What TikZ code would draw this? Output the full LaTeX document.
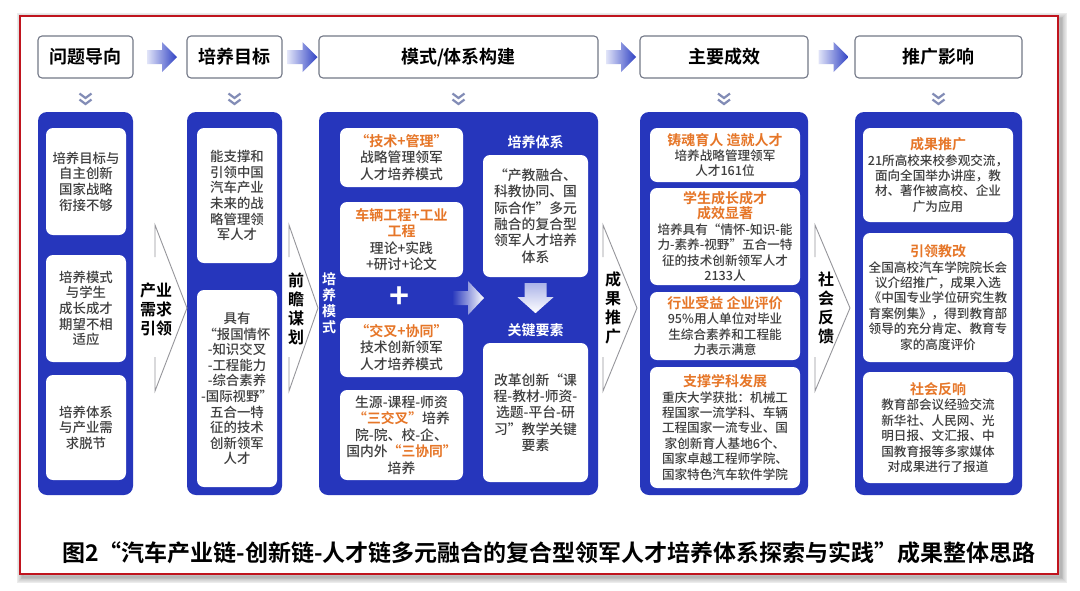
\documentclass[tikz,border=0pt]{standalone}
\usepackage{fontspec}
\setmainfont{Noto Sans CJK SC}[UprightFont={* Medium}, BoldFont={* Bold}]
\usetikzlibrary{calc}

\definecolor{panelblue}{RGB}{38,54,188}
\definecolor{boxgray}{RGB}{115,120,135}
\definecolor{titleorange}{RGB}{230,118,40}
\definecolor{bodytext}{RGB}{62,62,62}
\definecolor{framered}{RGB}{192,20,30}
\definecolor{iconblue}{RGB}{130,140,182}
\definecolor{arrowlight}{RGB}{225,228,248}
\definecolor{arrowblue}{RGB}{48,66,196}
\definecolor{chevgray}{RGB}{150,150,155}

\newcommand{\boxtitle}[1]{{\color{titleorange}\bfseries\fontsize{14}{16}\selectfont #1}}
\newcommand{\orng}[1]{{\color{titleorange}\bfseries #1}}

\tikzset{
  headbox/.style={draw=boxgray, line width=1.1pt, fill=white, rounded corners=4pt,
    minimum height=42pt, font=\fontsize{18}{20}\selectfont\bfseries, text=black},
  panel/.style={fill=panelblue, rounded corners=9pt, minimum height=383pt},
  inbox/.style={fill=white, rounded corners=7pt, align=center, text=bodytext, inner sep=1pt},
  textA/.style={font=\fontsize{13.4}{15.6}\selectfont},
  textB/.style={font=\fontsize{13.8}{16.4}\selectfont},
  textC/.style={font=\fontsize{12.6}{15.4}\selectfont},
  chevline/.style={draw=chevgray, line width=0.9pt},
  chevtext/.style={align=center, text=black, font=\fontsize{16}{19}\selectfont\bfseries},
  whitelabel/.style={align=center, text=white, font=\fontsize{14}{16}\selectfont\bfseries},
  icon/.style={draw=iconblue, line width=2.2pt},
}

\begin{document}
\begin{tikzpicture}[x=1pt, y=-1pt]
  \useasboundingbox (0,0) rectangle (1080,590);
  \fill[white] (0,0) rectangle (1080,590);

  % 外框与阴影
  \foreach \w in {1,...,8}
    \draw[black, opacity=0.04, line width={1.6*\w pt}] (23,19) rectangle (1061,577);
  \draw[framered, line width=1.2pt, fill=white] (20,16) rectangle (1058,574);

  % 顶部标题框
  \node[headbox, minimum width=95pt]  (h1) at (85.5,57)  {问题导向};
  \node[headbox, minimum width=95pt]  (h2) at (234.5,57) {培养目标};
  \node[headbox, minimum width=279pt] (h3) at (458.5,57) {模式/体系构建};
  \node[headbox, minimum width=168pt] (h4) at (724,57)   {主要成效};
  \node[headbox, minimum width=167pt] (h5) at (938.5,57) {推广影响};

  % 标题框之间的渐变箭头
  \foreach \a/\b in {h1/h2, h2/h3, h3/h4, h4/h5} {
    \coordinate (m) at ($(\a.east)!0.5!(\b.west)+(-13,0)$);
    \shade[left color=arrowlight, right color=arrowblue]
      (m) ++(0,-7) -- ++(15,0) -- ++(0,-8) -- ++(15,15) -- ++(-15,15) -- ++(0,-8) -- ++(-15,0) -- cycle;
  }

  % 标题框下方的小图标
  \foreach \h in {h1, h2, h3, h4, h5} {
    \draw[icon] ($(\h.south)+(-6,15)$) -- ++(6,4.5) -- ++(6,-4.5);
    \draw[icon] ($(\h.south)+(-6,21)$) -- ++(6,4.5) -- ++(6,-4.5);
  }

  % 蓝色底板
  \node[panel, minimum width=95pt]  (p1) at (85.5,303.5)  {};
  \node[panel, minimum width=95pt]  (p2) at (234.5,303.5) {};
  \node[panel, minimum width=279pt] (p3) at (458.5,303.5) {};
  \node[panel, minimum width=168pt] (p4) at (724,303.5)   {};
  \node[panel, minimum width=167pt] (p5) at (938.5,303.5) {};

  % 第一列：问题导向
  \node[inbox, textA, minimum width=80pt, minimum height=107pt] (b11) at (86,181.5)
    {培养目标与\\自主创新\\国家战略\\衔接不够};
  \node[inbox, textA, minimum width=80pt, minimum height=107pt] (b12) at (86,308.5)
    {培养模式\\与学生\\成长成才\\期望不相\\适应};
  \node[inbox, textA, minimum width=80pt, minimum height=105pt] (b13) at (86,427.5)
    {培养体系\\与产业需\\求脱节};

  % 第二列：培养目标
  \node[inbox, textA, minimum width=80pt, minimum height=135pt] (b21) at (237,195.5)
    {能支撑和\\引领中国\\汽车产业\\未来的战\\略管理领\\军人才};
  \node[inbox, textA, minimum width=80pt, minimum height=197pt] (b22) at (237,388.5)
    {具有\\“报国情怀\\-知识交叉\\-工程能力\\-综合素养\\-国际视野”\\五合一特\\征的技术\\创新领军\\人才};

  % 第三列：培养模式
  \node[whitelabel] (lab3) at (329,303) {培\\养\\模\\式};
  \node[inbox, textB, minimum width=123pt, minimum height=59pt] (b31) at (401.5,157.5)
    {\boxtitle{“技术+管理”}\\战略管理领军\\人才培养模式};
  \node[inbox, textB, minimum width=123pt, minimum height=75pt] (b32) at (401.5,239.5)
    {\boxtitle{车辆工程+工业}\\\boxtitle{工程}\\理论+实践\\+研讨+论文};
  \node[text=white, font=\fontsize{34}{34}\selectfont\bfseries] (plus) at (400,298) {+};
  \node[inbox, textB, minimum width=123pt, minimum height=59pt] (b33) at (401.5,347.5)
    {\boxtitle{“交叉+协同”}\\技术创新领军\\人才培养模式};
  \node[inbox, textB, minimum width=123pt, minimum height=90pt] (b34) at (401.5,435)
    {生源-课程-师资\\\orng{“三交叉”}培养\\院-院、校-企、\\国内外\orng{“三协同”}\\培养};

  % 第三列：培养体系与关键要素
  \node[whitelabel] (k1) at (535.5,142) {培养体系};
  \node[inbox, textB, minimum width=105pt, minimum height=122pt] (b35) at (535.5,216)
    {“产教融合、\\科教协同、国\\际合作”多元\\融合的复合型\\领军人才培养\\体系};
  \node[whitelabel] (k2) at (535.5,330) {关键要素};
  \node[inbox, textB, minimum width=105pt, minimum height=139pt] (b36) at (535.5,412.5)
    {改革创新“课\\程-教材-师资-\\选题-平台-研\\习”教学关键\\要素};

  % 内部箭头
  \coordinate (ra) at ($(plus.center)+(52,0)$);
  \shade[left color=panelblue, right color=white]
    (ra) ++(0,-7) -- ++(16,0) -- ++(0,-10) -- ++(16,17) -- ++(-16,17) -- ++(0,-10) -- ++(-16,0) -- cycle;
  \coordinate (da) at ($(b35.south)+(0,6)$);
  \shade[top color=arrowlight!70!arrowblue, bottom color=white]
    (da) ++(-11,0) -- ++(22,0) -- ++(0,14) -- ++(7,0) -- ++(-18,16) -- ++(-18,-16) -- ++(7,0) -- cycle;

  % 第四列：主要成效
  \node[inbox, textC, minimum width=150pt, minimum height=54pt] (b41) at (725,155)
    {\boxtitle{铸魂育人 造就人才}\\培养战略管理领军\\人才161位};
  \node[inbox, textC, minimum width=150pt, minimum height=97pt] (b42) at (725,236.5)
    {\boxtitle{学生成长成才}\\\boxtitle{成效显著}\\培养具有“情怀-知识-能\\力-素养-视野”五合一特\\征的技术创新领军人才\\2133人};
  \node[inbox, textC, minimum width=150pt, minimum height=68pt] (b43) at (725,326)
    {\boxtitle{行业受益 企业评价}\\95\%用人单位对毕业\\生综合素养和工程能\\力表示满意};
  \node[inbox, textC, minimum width=150pt, minimum height=121pt] (b44) at (725,427.5)
    {\boxtitle{支撑学科发展}\\重庆大学获批：机械工\\程国家一流学科、车辆\\工程国家一流专业、国\\家创新育人基地6个、\\国家卓越工程师学院、\\国家特色汽车软件学院};

  % 第五列：推广影响
  \node[inbox, textC, minimum width=150pt, minimum height=94pt] (b51) at (938,175)
    {\boxtitle{成果推广}\\21所高校来校参观交流，\\面向全国举办讲座，教\\材、著作被高校、企业\\广为应用};
  \node[inbox, textC, minimum width=150pt, minimum height=129pt] (b52) at (938,297.5)
    {\boxtitle{引领教改}\\全国高校汽车学院院长会\\议介绍推广，成果入选\\《中国专业学位研究生教\\育案例集》，得到教育部\\领导的充分肯定、教育专\\家的高度评价};
  \node[inbox, textC, minimum width=150pt, minimum height=111pt] (b53) at (938,427.5)
    {\boxtitle{社会反响}\\教育部会议经验交流\\新华社、人民网、光\\明日报、文汇报、中\\国教育报等多家媒体\\对成果进行了报道};

  % 列间的过渡箭头
  \draw[chevline] (155,257) -- (155,225) -- (187,308) -- (155,391) -- (155,357);
  \node[chevtext] (c1) at (156,309) {产业\\需求\\引领};
  \draw[chevline] (289,257) -- (289,225) -- (318,308) -- (289,391) -- (289,357);
  \node[chevtext] (c2) at (296,309) {前\\瞻\\谋\\划};
  \draw[chevline] (603,257) -- (603,225) -- (637,308) -- (603,391) -- (603,357);
  \node[chevtext] (c3) at (613,308) {成\\果\\推\\广};
  \draw[chevline] (815,257) -- (815,225) -- (850,308) -- (815,391) -- (815,357);
  \node[chevtext] (c4) at (826,308) {社\\会\\反\\馈};

  % 图题
  \node[font=\fontsize{23}{25}\selectfont\bfseries, text=black] (cap) at (549,553)
    {图2“汽车产业链-创新链-人才链多元融合的复合型领军人才培养体系探索与实践”成果整体思路};
\end{tikzpicture}
\end{document}
